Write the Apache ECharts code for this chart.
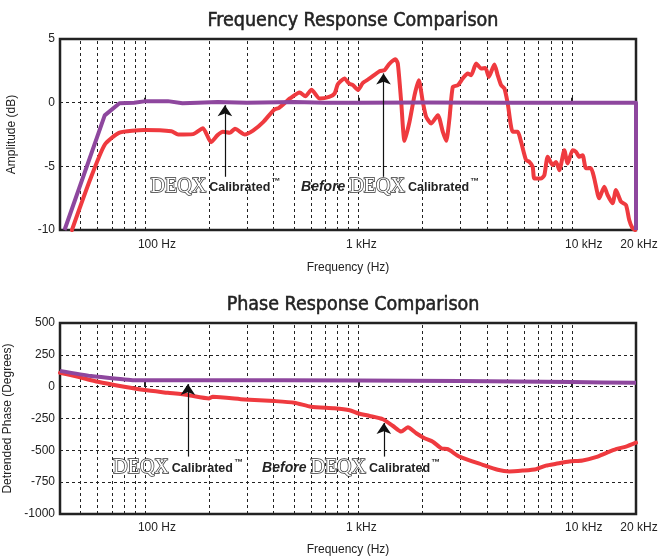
<!DOCTYPE html>
<html>
<head>
<meta charset="utf-8">
<script src="https://cdn.jsdelivr.net/npm/echarts@6/dist/echarts.min.js"></script>
<style>html,body{margin:0;padding:0;background:#fff}#c{width:659px;height:558px}</style>
</head>
<body>
<div id="c"></div>
<script>
// ---------- data ----------
const xTickValues = [100, 1000, 10000, 20000];
const xTickLabels = ['100 Hz', '1 kHz', '10 kHz', '20 kHz'];
const gridFreqs = [50,60,70,80,90,100,200,300,400,500,600,700,800,900,1000,2000,3000,4000,5000,6000,7000,8000,9000,10000];

const calAmpFreq = [42,64.8,76,89,101,128,150,177,219,300,500,700,1000,2000,5000,10000,20000,20000];
const calAmpDb   = [-10,-1.0,-0.05,0.0,0.12,0.12,-0.05,0.0,0.05,0.0,0.05,0.0,0.0,0.02,0.0,0.0,0.0,-10];

const befAmpFreq = [45.5,55.2,64.8,76,99.6,133,143,168,187,204,219,232,250,264,294,321,358,403,425,480,531,565,603,659,730,774,802,862,905,943,996,1050,1129,1257,1327,1401,1494,1531,1588,1646,1737,1834,1920,2005,2080,2195,2358,2488,2581,2673,2771,2924,3085,3255,3377,3565,3760,3940,4085,4341,4499,4666,4836,5013,5289,5580,5788,6108,6331,6562,6682,7179,7440,7713,8138,8442,8748,9230,9565,10093,10470,10850,11240,11660,12300,12750,13450,14200,14720,15530,16110,17010,17950,18590,19270,19800];
const befAmpDb   = [-10,-6.1,-3.3,-2.35,-2.15,-2.25,-2.5,-2.47,-2.0,-3.1,-2.55,-2.29,-2.37,-2.05,-2.5,-2.2,-1.53,-0.55,-0.4,0.35,0.8,0.5,1.02,0.32,0.45,0.72,1.45,1.9,1.5,1.37,1.0,1.55,1.9,2.47,2.55,3.07,3.41,3.07,0.06,-3.0,-1.5,0.59,1.76,0.06,-1.12,-1.63,-0.98,-2.29,-3.0,-1.24,1.24,1.37,1.9,2.29,2.15,3.07,2.68,2.73,2.02,3.0,2.15,1.37,1.11,-0.07,-2.29,-2.29,-3.08,-4.51,-4.65,-5.04,-5.95,-5.95,-5.69,-4.25,-4.9,-4.65,-5.3,-3.73,-4.77,-3.73,-3.86,-4.25,-4.12,-5.16,-5.16,-5.95,-7.51,-6.6,-7.25,-7.9,-6.86,-7.78,-8.04,-9.21,-9.87,-10];

const calPhaseFreq = [40,56,80,89,200,1000,3000,10000,20000];
const calPhaseDeg  = [124,83,57,51,50,49,45,36,30];

const befPhaseFreq = [40,48.6,60.2,80,99.6,128,159,200,208,293,404,502,600,772,910,993,1129,1303,1453,1588,1706,1867,2043,2234,2443,2625,2977,3828,4499,5100,5890,6802,7575,8442,9740,11240,12970,14450,16110,17950,20000];
const befPhaseDeg  = [109,77,38,-1,-27,-48,-66,-92,-79,-100,-113,-126,-158,-170,-185,-209,-230,-256,-309,-353,-319,-366,-405,-432,-483,-491,-549,-614,-653,-666,-659,-648,-620,-606,-588,-580,-554,-522,-491,-471,-440];

// annotation anchors [freq, value]
const ampCalLabel = [214, -6.63], ampBefLabel = [1408, -6.63];
const ampCalArrow = [[237, -5.82], [237, -0.2]], ampBefArrow = [[1312, -5.82], [1312, 2.3]];
const phCalLabel = [143, -640], phBefLabel = [925, -640];
const phCalArrow = [[159, -549], [159, 20]], phBefArrow = [[1317, -549], [1317, -285]];

// ---------- style ----------
const TXT = '#222';
const PURPLE = '#8e479e', RED = '#ef3a3f';
const SANS = "'Liberation Sans', Arial, Helvetica, sans-serif";
const NARROW = "'Liberation Sans Narrow', 'DejaVu Sans Condensed', 'Roboto Condensed', sans-serif";

const zip = (a, b) => a.map((v, i) => [v, b[i]]);

function xAxis(gi, nameGap, margin) {
  return {
    type: 'log', logBase: 10, min: 40, max: 20000, gridIndex: gi,
    name: 'Frequency (Hz)', nameLocation: 'middle', nameGap: nameGap,
    nameTextStyle: { color: TXT, fontSize: 12, fontFamily: SANS },
    axisLine: { show: false },
    axisTick: { show: true, inside: true, length: 5, lineStyle: { color: TXT, width: 2 } },
    splitLine: { show: false },
    axisLabel: {
      show: true, showMaxLabel: true, showMinLabel: false, margin: margin,
      color: TXT, fontSize: 12, fontFamily: SANS,
      formatter: function (v) {
        const i = xTickValues.findIndex(t => Math.abs(t - v) / t < 1e-4);
        if (i < 0) return '';
        return (i % 2 === 0 ? '{w|' : '{n|') + xTickLabels[i] + '}';
      },
      rich: {
        w: { padding: [0, 0, 0, 24], color: TXT, fontSize: 12, fontFamily: SANS },
        n: { padding: [0, 0, 0, 6], color: TXT, fontSize: 12, fontFamily: SANS }
      }
    }
  };
}
function yAxis(gi, min, max, interval, name) {
  return {
    type: 'value', gridIndex: gi, min: min, max: max, interval: interval,
    name: name, nameLocation: 'middle', nameGap: 42, nameRotate: 90,
    nameTextStyle: { color: TXT, fontSize: 12, fontFamily: SANS },
    axisLine: { show: false }, axisTick: { show: false },
    axisLabel: { color: TXT, fontSize: 12, fontFamily: SANS, margin: 5, formatter: v => String(v) },
    splitLine: { show: true, lineStyle: { color: '#222', width: 1, type: [3, 3] } }
  };
}
const gridMarks = {
  silent: true, symbol: ['none', 'none'], z: 1,
  label: { show: false },
  lineStyle: { color: '#222', width: 1, type: [3, 3] },
  data: gridFreqs.map(f => ({ xAxis: f }))
};
const rich = {
  d: { fontFamily: "'Liberation Serif', 'DejaVu Serif', serif", fontSize: 20, color: '#fff', textBorderColor: '#333', textBorderWidth: 1.4, padding: [0, 3, 0, 0] },
  c: { fontFamily: SANS, fontWeight: 'bold', fontSize: 12.5, color: TXT },
  t: { fontFamily: SANS, fontWeight: 'bold', fontSize: 9, color: TXT, verticalAlign: 'top', padding: [0, 0, 0, 1] },
  b: { fontFamily: SANS, fontWeight: 'bold', fontStyle: 'italic', fontSize: 14, color: TXT, padding: [0, 4, 0, 0] }
};
function annot(calLabel, befLabel, calArrow, befArrow) {
  return {
    markPoint: {
      silent: true, symbol: 'circle', symbolSize: 0, z: 6,
      itemStyle: { color: 'rgba(0,0,0,0)' },
      label: { show: true, position: 'inside', rich: rich },
      data: [
        { coord: calLabel, label: { formatter: '{d|DEQX}{c|Calibrated}{t|™}' } },
        { coord: befLabel, label: { formatter: '{b|Before}{d|DEQX}{c|Calibrated}{t|™}' } }
      ]
    },
    markLine: {
      silent: true, symbol: ['none', 'arrow'], symbolSize: 11, z: 6,
      label: { show: false },
      lineStyle: { color: '#111', width: 1.2, type: 'solid' },
      itemStyle: { color: '#111' },
      data: [
        [{ coord: calArrow[0] }, { coord: calArrow[1] }],
        [{ coord: befArrow[0] }, { coord: befArrow[1] }]
      ]
    }
  };
}
const gridBase = { left: 60, right: 23, height: 191, show: true, borderColor: '#222', borderWidth: 2.5,
  backgroundColor: 'transparent', containLabel: false, outerBoundsMode: 'none' };
const titleStyle = { fontFamily: NARROW, fontSize: 19.5, fontWeight: 'normal', color: TXT, textBorderColor: TXT, textBorderWidth: 0.5 };

const chart = echarts.init(document.getElementById('c'), null, { renderer: 'canvas' });
chart.setOption({
  animation: false,
  backgroundColor: '#fff',
  title: [
    { text: 'Frequency Response Comparison', left: 348, top: 6, textAlign: 'center', textStyle: titleStyle },
    { text: 'Phase Response Comparison', left: 348, top: 290, textAlign: 'center', textStyle: titleStyle }
  ],
  grid: [
    Object.assign({ top: 39 }, gridBase),
    Object.assign({ top: 323 }, gridBase)
  ],
  xAxis: [xAxis(0, 32, 9), xAxis(1, 30, 8)],
  yAxis: [yAxis(0, -10, 5, 5, 'Amplitude (dB)'), yAxis(1, -1000, 500, 250, 'Detrended Phase (Degrees)')],
  series: [
    { type: 'line', xAxisIndex: 0, yAxisIndex: 0, data: [], markLine: gridMarks, silent: true },
    { type: 'line', xAxisIndex: 1, yAxisIndex: 1, data: [], markLine: gridMarks, silent: true },
    Object.assign({ type: 'line', name: 'Before', xAxisIndex: 0, yAxisIndex: 0, z: 3, data: zip(befAmpFreq, befAmpDb),
      showSymbol: false, smooth: 0.2, lineStyle: { color: RED, width: 4, join: 'round', cap: 'round' }, silent: true }, annot(ampCalLabel, ampBefLabel, ampCalArrow, ampBefArrow)),
    { type: 'line', name: 'Calibrated', xAxisIndex: 0, yAxisIndex: 0, z: 4, data: zip(calAmpFreq, calAmpDb),
      showSymbol: false, lineStyle: { color: PURPLE, width: 4, join: 'round' }, silent: true },
    Object.assign({ type: 'line', name: 'BeforeP', xAxisIndex: 1, yAxisIndex: 1, z: 3, data: zip(befPhaseFreq, befPhaseDeg),
      showSymbol: false, smooth: 0.2, lineStyle: { color: RED, width: 4, join: 'round', cap: 'round' }, silent: true }, annot(phCalLabel, phBefLabel, phCalArrow, phBefArrow)),
    { type: 'line', name: 'CalibratedP', xAxisIndex: 1, yAxisIndex: 1, z: 4, data: zip(calPhaseFreq, calPhaseDeg),
      showSymbol: false, smooth: 0.2, lineStyle: { color: PURPLE, width: 4, join: 'round' }, silent: true }
  ]
});
</script>
</body>
</html>
